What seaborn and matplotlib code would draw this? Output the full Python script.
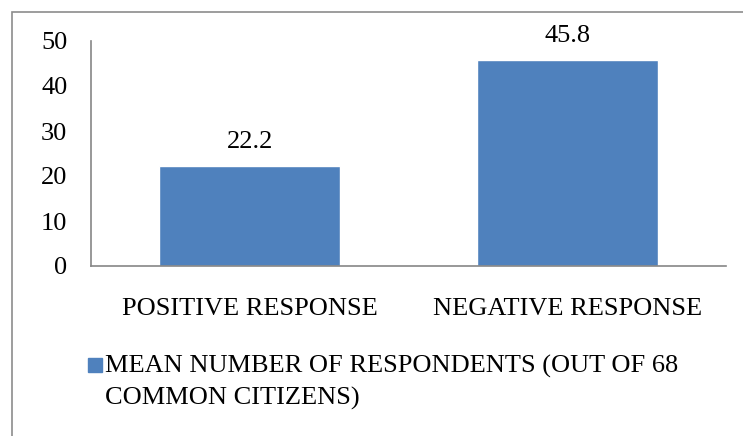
import matplotlib
matplotlib.use("Agg")
import matplotlib.pyplot as plt
from matplotlib.patches import Rectangle
import seaborn as sns
import pandas as pd

categories = ["POSITIVE RESPONSE", "NEGATIVE RESPONSE"]
values = [22.2, 45.8]
series_name = "MEAN NUMBER OF RESPONDENTS (OUT OF 68\nCOMMON CITIZENS)"
yticks = [0, 10, 20, 30, 40, 50]

sns.set_theme(style="white")
plt.rcParams["font.family"] = ["Liberation Serif", "DejaVu Serif"]

bar_color = "#4f81bd"
spine_color = "#868686"
FS = 19

df = pd.DataFrame({"category": categories, "value": values})

W, H = 743, 436
fig = plt.figure(figsize=(W / 100, H / 100), dpi=100)
ax = fig.add_axes([91 / W, 1 - 266 / H, (726 - 91) / W, (266 - 41) / H])

sns.barplot(data=df, x="category", y="value", color=bar_color, saturation=1,
            width=0.57, ax=ax)

ax.set_ylim(0, 50)
ax.set_xlim(-0.5, 1.5)
ax.set_yticks(yticks)
ax.set_yticklabels([str(t) for t in yticks], fontsize=FS, color="black")
ax.tick_params(axis="y", length=0, pad=17)
ax.tick_params(axis="x", length=0, pad=23, labelsize=FS, labelcolor="black")
ax.set_xlabel("")
ax.set_ylabel("")
for side in ["top", "right"]:
    ax.spines[side].set_visible(False)
for side in ["left", "bottom"]:
    ax.spines[side].set_color(spine_color)
    ax.spines[side].set_linewidth(1.2)

for p, v in zip(ax.patches, values):
    ax.text(p.get_x() + p.get_width() / 2, v + 4.0, f"{v:.1f}",
            ha="center", va="baseline", fontsize=FS, color="black")

# legend entry below the axes
fig.patches.append(Rectangle((88 / W, 1 - 372 / H), 14 / W, 14 / H,
                             transform=fig.transFigure, color=bar_color))
fig.text(105 / W, 1 - 355 / H, series_name, ha="left", va="top",
         fontsize=FS, color="black", linespacing=1.5)

# chart-area border
fig.patches.append(Rectangle((12 / W, -0.1), 1.2, 1 - 12 / H + 0.1,
                             transform=fig.transFigure, fill=False,
                             edgecolor="#8c8c8c", linewidth=1.2))

fig.savefig("out.png", dpi=100)
